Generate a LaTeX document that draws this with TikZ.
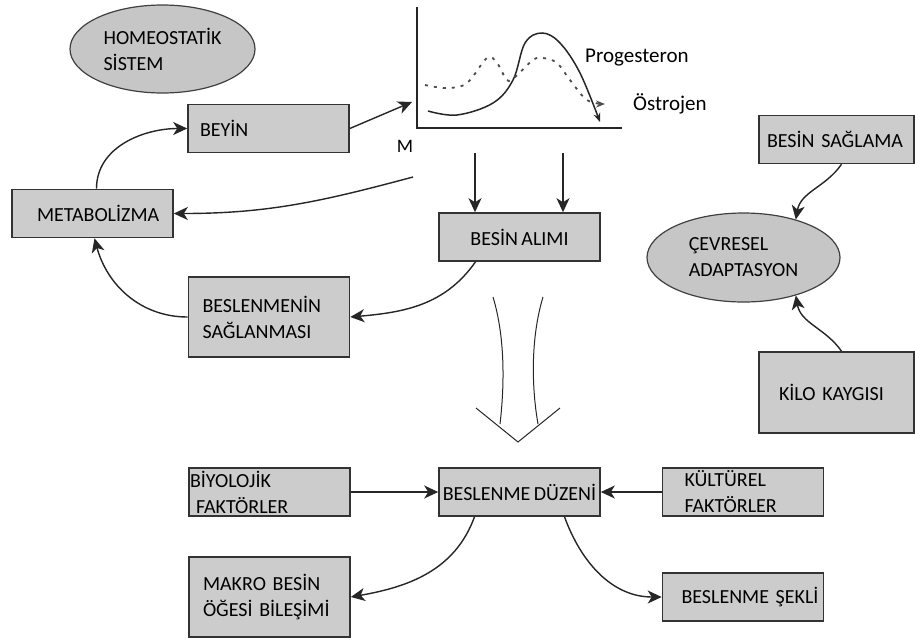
\documentclass[tikz,border=0pt]{standalone}
\usepackage{fontspec}
\setmainfont{Carlito}
\usetikzlibrary{shapes.geometric,arrows.meta,positioning}

\newcommand\boxfont{\fontsize{20}{26}\selectfont\spaceskip=3.5pt plus 1pt minus 0.5pt\relax}

\tikzset{
  box/.style={draw=black!80, line width=1.6pt, fill=gray!40, minimum width=161pt, minimum height=48pt, inner ysep=0pt, align=left, font=\boxfont},
  oval/.style={ellipse, draw=black!75, line width=1.2pt, fill=gray!45, inner sep=0pt, align=left, font=\boxfont},
  conn/.style={line width=1.4pt, draw=black!85, -{Stealth[length=14pt,width=13pt,inset=4pt]}},
  lbl/.style={font=\fontsize{21}{26}\selectfont, inner sep=0pt}
}

\begin{document}
\begin{tikzpicture}[x=1pt, y=-1pt]
        \useasboundingbox (0,0) rectangle (915,641);

        \node[oval, minimum width=185pt, minimum height=88pt] (homeo) at (162.5,49) {HOMEOSTATİK\\SİSTEM};
        \node[box, text width=137pt, inner xsep=12pt] (beyin) at (268.5,128.5) {BEYİN};
        \node[box, text width=111pt, inner xsep=25pt] (metab) at (92.5,213.5) {METABOLİZMA};
        \node[box] (alim) at (519.5,237) {BESİN ALIMI};
        \node[box, minimum height=80pt, text width=133pt, inner xsep=14pt] (saglan) at (269,317) {BESLENMENİN\\SAĞLANMASI};
        \node[box, minimum width=155pt, text width=139pt, inner xsep=8pt] (bsagla) at (836.5,139.5) {BESİN~SAĞLAMA};
        \node[oval, minimum width=193pt, minimum height=89pt] (cevre) at (743.5,257.5) {ÇEVRESEL\\ADAPTASYON};
        \node[box, minimum width=155pt, minimum height=81pt, text width=115pt, inner xsep=20pt] (kilo) at (836.5,392.5) {KİLO KAYGISI};
        \node[box, text width=159pt, inner xsep=1pt] (biyo) at (269.5,492) {BİYOLOJİK\\\hspace*{6pt}FAKTÖRLER};
        \node[box, inner xsep=0pt] (duzen) at (519.5,492) {BESLENME DÜZENİ};
        \node[box, text width=117pt, inner xsep=22pt] (kultur) at (743,492) {KÜLTÜREL\\FAKTÖRLER};
        \node[box, minimum height=80pt, text width=133pt, inner xsep=14pt] (makro) at (269.5,597) {MAKRO BESİN\\ÖĞESİ BİLEŞİMİ};
        \node[box, text width=123pt, inner xsep=19pt] (sekli) at (743,597) {BESLENME~ŞEKLİ};

        % hormone chart
        \draw[line width=1.5pt, black!85] (417,7) -- (417,128) -- (622,128);
        \draw[line width=1.5pt, black!85, -{Stealth[length=9pt,width=7pt]}] plot[smooth, tension=0.6] coordinates {(428,111) (457,115) (493,103) (513,80) (525,43) (542,33) (560,43) (580,73) (600,122)};
        \draw[line width=1.8pt, black!70, dash pattern=on 3pt off 6pt, -{Stealth[length=9pt,width=7pt]}] plot[smooth, tension=0.6] coordinates {(425,85) (447,88) (467,83) (487,58) (497,63) (507,80) (515,77) (533,60) (543,58) (557,63) (570,80) (587,100) (605,104)};
        \node[lbl, anchor=west] (prog) at (585,58) {Progesteron};
        \node[lbl, anchor=west] (ostro) at (633,104) {Östrojen};
        \node[lbl, font=\fontsize{19}{24}\selectfont] (mlbl) at (405,146) {M};

        \coordinate (chartin) at (412,102);
        \coordinate (chartout) at (413,177);
        \coordinate (sig1) at (475,153);
        \coordinate (sig2) at (563,153);

        %metabolizma to beyin
        \draw[conn] ([xshift=4pt]metab.north) to[out=90, in=180] (beyin.west);

        %beyin to chart
        \draw[conn] (beyin.east) -- (chartin);

        %chart to metabolizma
        \draw[conn] (chartout) to[out=195, in=0] (metab.east);

        %chart to besin alimi
        \draw[conn] (sig1) -- (sig1 |- alim.north);
        \draw[conn] (sig2) -- (sig2 |- alim.north);

        %besin alimi to beslenmenin saglanmasi
        \draw[conn] ([xshift=-44pt]alim.south) to[out=235, in=5] (saglan.east);

        %beslenmenin saglanmasi to metabolizma
        \draw[conn] (saglan.west) to[out=180, in=-75] ([xshift=2pt]metab.south);

        %besin saglama to cevresel adaptasyon
        \draw[conn] ([xshift=5pt]bsagla.south) to[out=235, in=80] (cevre.36);

        %kilo kaygisi to cevresel adaptasyon
        \draw[conn] ([xshift=5pt]kilo.north) to[out=125, in=-80] (cevre.-36);

        %open arrow down to beslenme duzeni
        \draw[line width=1pt, black!85] (493,297) .. controls (506,340) and (504,390) .. (500,424);
        \draw[line width=1pt, black!85] (543,297) .. controls (530,340) and (532,390) .. (538,424);
        \draw[line width=1pt, black!85] (476,408) -- (518,442) -- (560,408);

        %biyolojik to duzen
        \draw[conn] (biyo.east) -- (duzen.west);

        %kulturel to duzen
        \draw[conn] (kultur.west) -- (duzen.east);

        %duzen to makro besin
        \draw[conn] ([xshift=-45pt]duzen.south) to[out=250, in=10] (makro.east);

        %duzen to beslenme sekli
        \draw[conn] ([xshift=45pt]duzen.south) to[out=290, in=180] (sekli.west);
    \end{tikzpicture}
\end{document}
